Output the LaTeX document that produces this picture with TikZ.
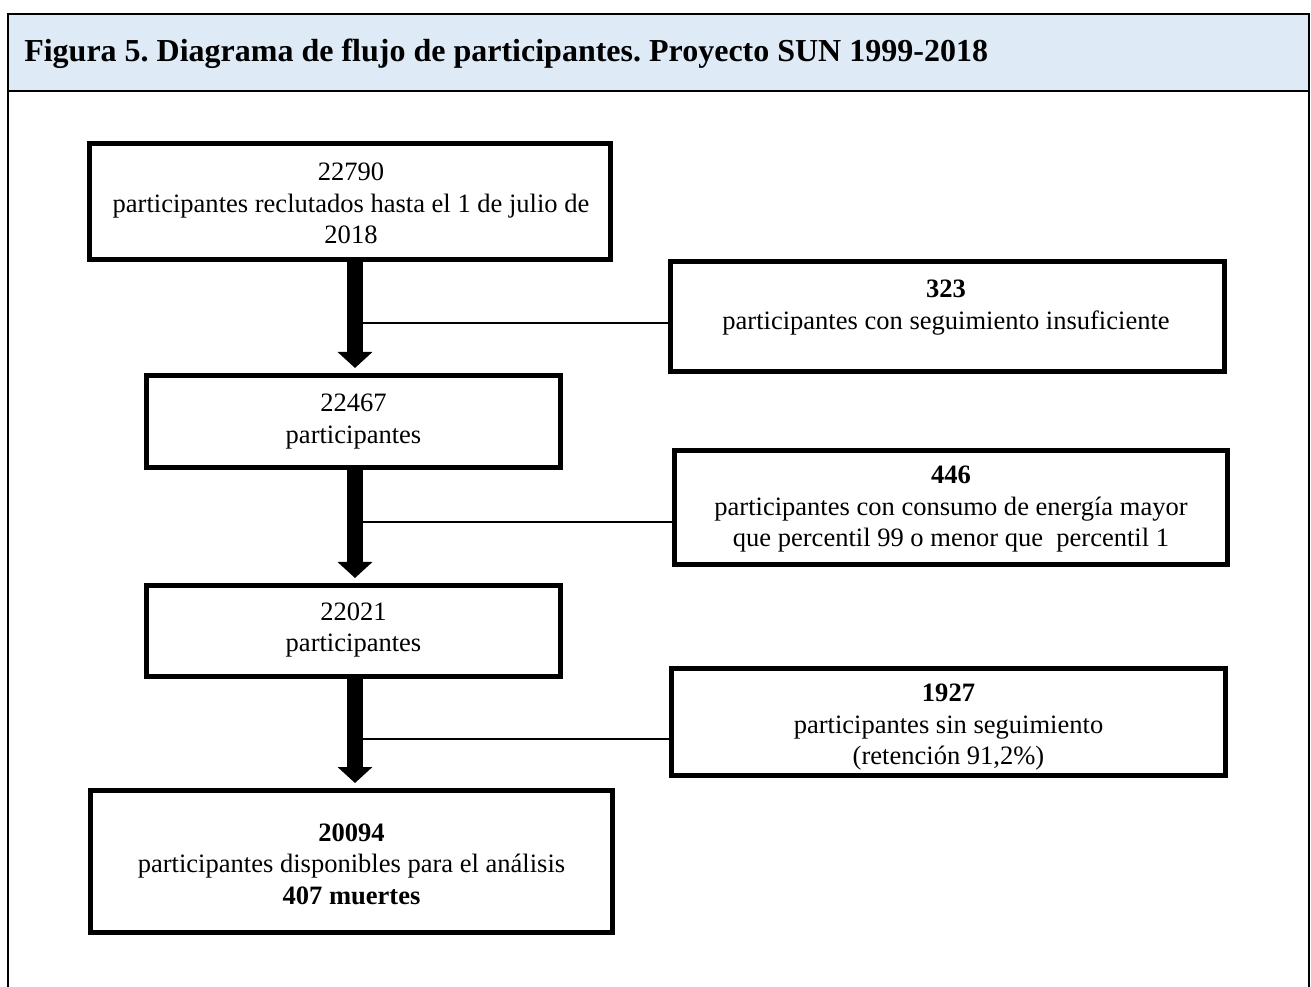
\documentclass[tikz,border=0pt]{standalone}
\usepackage{fontspec}
\setmainfont{Liberation Serif}
\usetikzlibrary{arrows.meta}
\definecolor{headerblue}{RGB}{222,234,246}
\frenchspacing
\begin{document}
\begin{tikzpicture}[x=0.75pt,y=-0.75pt,
  box/.style={draw=black,line width=3.75pt,rectangle,inner sep=0pt},
  txt/.style={align=center,inner sep=0pt,font=\fontsize{19.9pt}{23.6pt}\selectfont},
  bigarrow/.style={line width=12pt,-{Triangle[width=25.5pt,length=12pt]},shorten >=3.75pt},
  thinline/.style={line width=1.5pt},
  frameline/.style={line width=1.5pt}]
\useasboundingbox (0,0) rectangle (1311,987);
% frame and header
\fill[headerblue] (8,14) rectangle (1309,91);
\draw[frameline] (8,987) -- (8,14) -- (1309,14) -- (1309,987);
\draw[frameline] (8,91) -- (1309,91);
\node[anchor=base west,inner sep=0pt,font=\fontsize{24pt}{28pt}\selectfont\bfseries] (title) at (24,62)
  {Figura 5. Diagrama de flujo de participantes. Proyecto SUN 1999-2018};
% boxes
\node[box,minimum width={521*0.75pt},minimum height={116*0.75pt}] (b1) at (350,201.5) {};
\node[box,minimum width={554*0.75pt},minimum height={110*0.75pt}] (b2) at (947.5,316.5) {};
\node[box,minimum width={414*0.75pt},minimum height={92*0.75pt}] (b3) at (353.5,421.5) {};
\node[box,minimum width={553*0.75pt},minimum height={114*0.75pt}] (b4) at (951,507.5) {};
\node[box,minimum width={414*0.75pt},minimum height={91*0.75pt}] (b5) at (353.5,631) {};
\node[box,minimum width={554*0.75pt},minimum height={107*0.75pt}] (b6) at (948.5,722) {};
\node[box,minimum width={522*0.75pt},minimum height={142*0.75pt}] (b7) at (351.5,861.5) {};
% texts
\node[txt] (t1) at (351,203.5) {22790\\participantes reclutados hasta el 1 de julio de\\2018};
\node[txt] (t2) at (946,307.5) {\textbf{323}\\participantes con seguimiento insuficiente};
\node[txt] (t3) at (353.5,421.5) {22467\\participantes};
\node[txt] (t4) at (951,509.5) {\textbf{446}\\participantes con consumo de energía mayor\\que percentil 99 o menor que \ percentil 1};
\node[txt] (t5) at (353.5,630) {22021\\participantes};
\node[txt] (t6) at (948.5,727.5) {\textbf{1927}\\participantes sin seguimiento\\(retención 91,2\%)};
\node[txt] (t7) at (351.5,864) {\textbf{20094}\\participantes disponibles para el análisis\\\textbf{407 muertes}};
% connectors
\coordinate (ax) at (355,0);
\coordinate (h1) at (355,323);
\coordinate (h2) at (355,522);
\coordinate (h3) at (355,739);
\draw[thinline] (h1) -- (h1 -| b2.west);
\draw[thinline] (h2) -- (h2 -| b4.west);
\draw[thinline] (h3) -- (h3 -| b6.west);
\draw[bigarrow] (b1.south -| ax) -- (b3.north -| ax);
\draw[bigarrow] (b3.south -| ax) -- (b5.north -| ax);
\draw[bigarrow] (b5.south -| ax) -- (b7.north -| ax);
\end{tikzpicture}
\end{document}
